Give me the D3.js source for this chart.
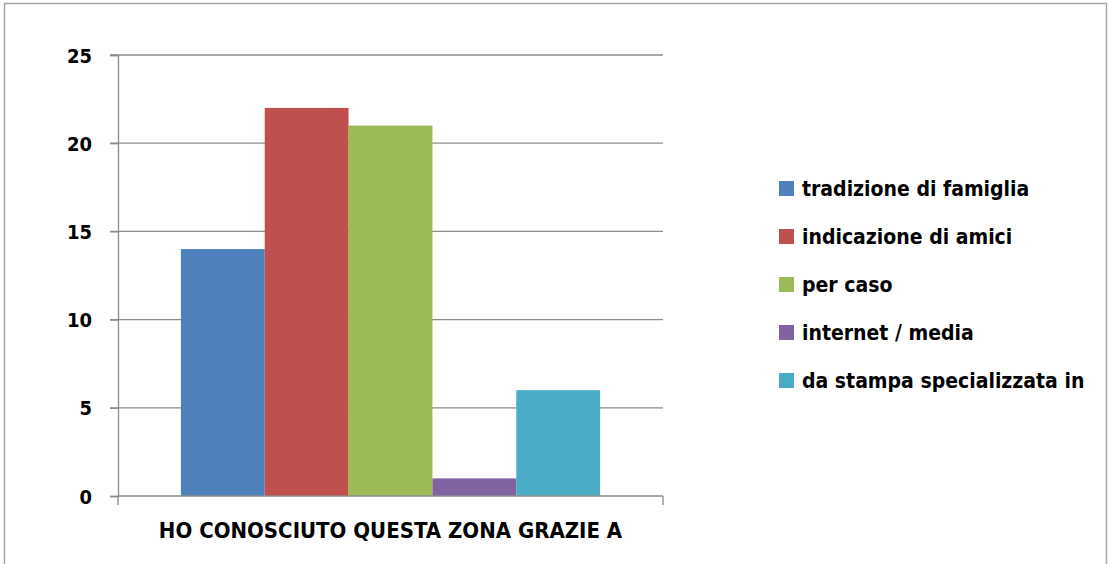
<!DOCTYPE html>
<html>
<head>
<meta charset="utf-8">
<script src="https://cdn.jsdelivr.net/npm/d3@7"></script>
<style>
  body { margin: 0; background: #fff; }
  svg text { font-family: 'DejaVu Sans Condensed', 'Liberation Sans Narrow', sans-serif; font-weight: bold; fill: #000; }
</style>
</head>
<body>
<svg width="1108" height="564"></svg>
<script>
const category = 'HO CONOSCIUTO QUESTA ZONA GRAZIE A';
const seriesNames = ['tradizione di famiglia', 'indicazione di amici', 'per caso', 'internet / media', 'da stampa specializzata in'];
const seriesValues = [14, 22, 21, 1, 6];
const seriesColors = ['#4f81bd', '#c0504d', '#9bbb59', '#8064a2', '#4bacc6'];
const yTicks = [0, 5, 10, 15, 20, 25];

const svg = d3.select('svg');
const width = +svg.attr('width');
const height = +svg.attr('height');

// chart border
svg.append('rect')
  .attr('x', 4.5).attr('y', 3.5)
  .attr('width', 1102).attr('height', 570)
  .attr('fill', 'none')
  .attr('stroke', '#a6a6a6')
  .attr('stroke-width', 1.5);

const margin = { top: 55, right: width - 663, bottom: height - 496, left: 118 };
const w = width - margin.left - margin.right;
const h = height - margin.top - margin.bottom;
const g = svg.append('g').attr('transform', `translate(${margin.left},${margin.top})`);

const y = d3.scaleLinear().domain([0, 25]).range([h, 0]);

// one category, gap width 150%
const barW = w / (seriesNames.length + 1.5);
const x = d3.scaleBand()
  .domain(seriesNames)
  .range([barW * 0.75, w - barW * 0.75]);

// gridlines
g.selectAll('.grid')
  .data(yTicks.filter(d => d > 0))
  .enter().append('line')
  .attr('x1', -8).attr('x2', w)
  .attr('y1', d => y(d)).attr('y2', d => y(d))
  .attr('stroke', '#8c8c8c')
  .attr('stroke-width', 1.3);

g.selectAll('.bar')
  .data(seriesValues)
  .enter().append('rect')
  .attr('x', (d, i) => x(seriesNames[i]))
  .attr('width', x.bandwidth())
  .attr('y', d => y(d))
  .attr('height', d => h - y(d))
  .attr('fill', (d, i) => seriesColors[i]);

// y axis
const yAxis = g.append('g')
  .call(d3.axisLeft(y).tickValues(yTicks).tickSize(8).tickPadding(18));
yAxis.select('.domain').attr('stroke', '#8c8c8c').attr('stroke-width', 1.3);
yAxis.selectAll('.tick line').attr('stroke', '#8c8c8c').attr('stroke-width', 1.3);
yAxis.selectAll('.tick text')
  .style('font-size', '20px')
  .attr('dy', '0.35em');

// x axis
const xAxis = g.append('g').attr('transform', `translate(0,${h})`);
xAxis.append('line')
  .attr('x1', 0).attr('x2', w)
  .attr('stroke', '#8c8c8c').attr('stroke-width', 1.3);
[0, w].forEach((px) => {
  xAxis.append('line')
    .attr('x1', px).attr('x2', px)
    .attr('y1', 0).attr('y2', 9)
    .attr('stroke', '#8c8c8c').attr('stroke-width', 1.3);
});
xAxis.append('text')
  .attr('x', w / 2)
  .attr('y', 42)
  .style('text-anchor', 'middle')
  .style('font-size', '22px')
  .text(category);

// legend
const legend = svg.append('g').attr('transform', 'translate(779,181)');
const item = legend.selectAll('.item')
  .data(seriesNames)
  .enter().append('g')
  .attr('transform', (d, i) => `translate(0,${i * 48})`);
item.append('rect')
  .attr('width', 15).attr('height', 15)
  .attr('fill', (d, i) => seriesColors[i]);
item.append('text')
  .attr('x', 23)
  .attr('y', 7.5)
  .attr('dy', '0.35em')
  .style('font-size', '21px')
  .text(d => d);
</script>
</body>
</html>
